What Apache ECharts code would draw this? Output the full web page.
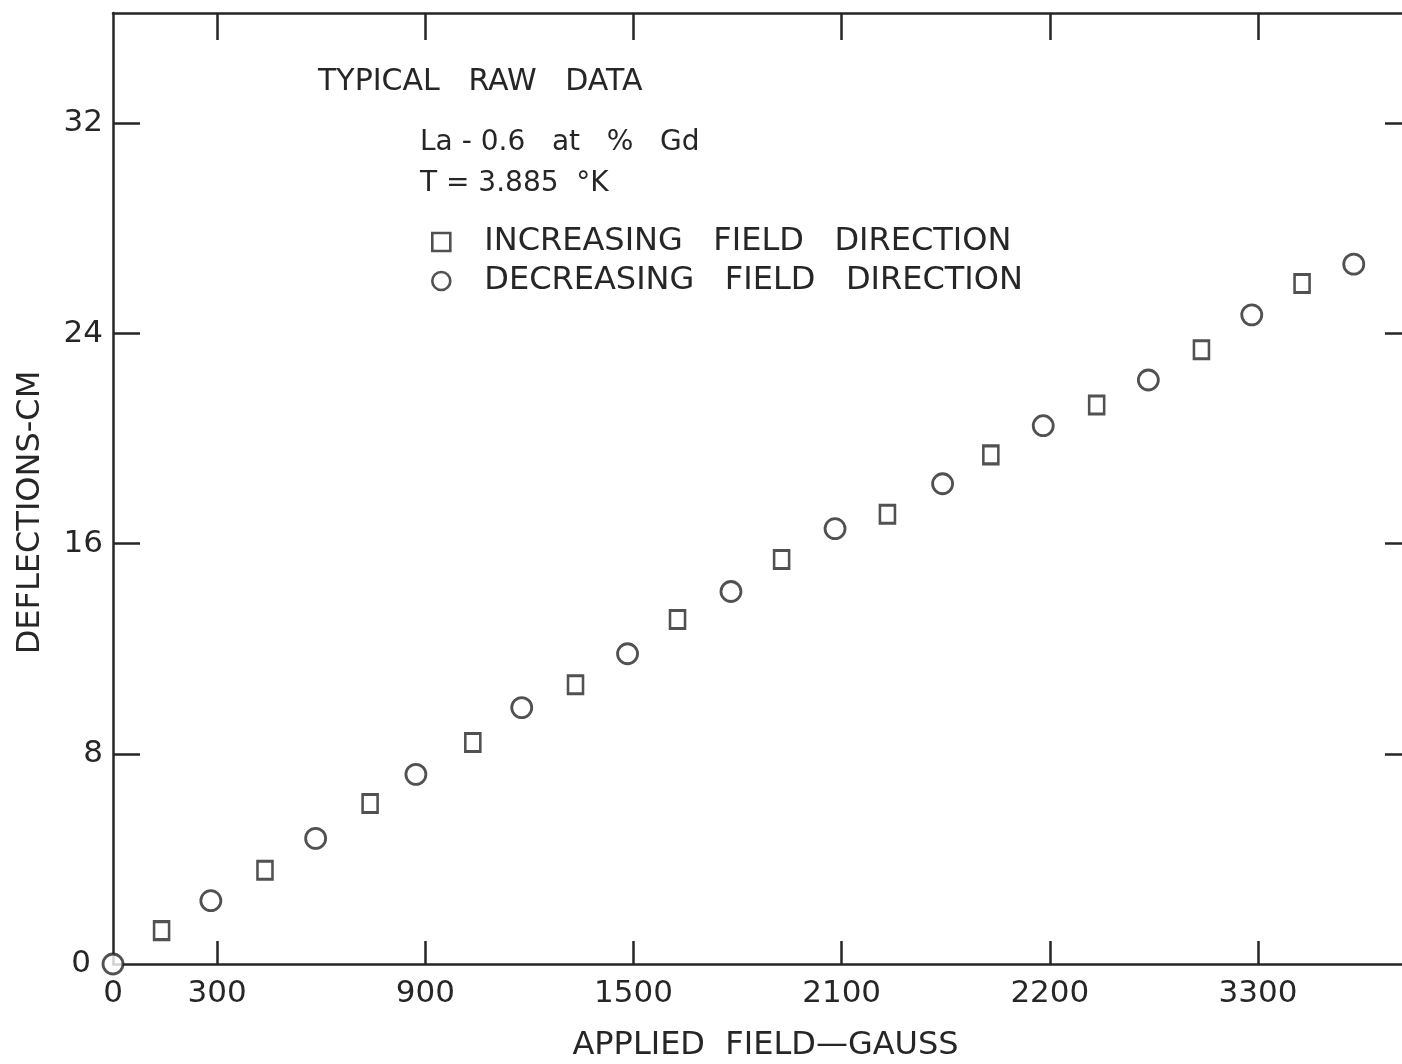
<!DOCTYPE html>
<html>
<head>
    <meta charset="utf-8">
    <title>Typical raw data</title>
    <script src="https://cdn.jsdelivr.net/npm/echarts@6/dist/echarts.min.js"></script>
    <style>
        html, body { margin: 0; padding: 0; background: #fff; }
        #chart { width: 1402px; height: 1064px; }
    </style>
</head>
<body>
<div id="chart"></div>
<script>
    // increasing field direction (squares)
    var incField = [140, 438, 741, 1037, 1333, 1627, 1927, 2232, 2530, 2835, 3137, 3427];
    var incDefl = [1.27, 3.57, 6.11, 8.43, 10.63, 13.11, 15.40, 17.12, 19.38, 21.28, 23.38, 25.90];
    // decreasing field direction (circles)
    var decField = [0, 282, 584, 873, 1178, 1483, 1781, 2081, 2391, 2681, 2984, 3282, 3576];
    var decDefl = [0, 2.41, 4.78, 7.22, 9.76, 11.81, 14.18, 16.57, 18.28, 20.49, 22.23, 24.71, 26.64];

    // tick positions and printed labels (the original sheet prints 2200 at the 2700 mark)
    var xTickValues = [0, 300, 900, 1500, 2100, 2700, 3300];
    var xTickLabels = ['0', '300', '900', '1500', '2100', '2200', '3300'];
    var yTickValues = [0, 8, 16, 24, 32];

    var ink = '#262626';
    var font = 'DejaVu Sans';

    function pairs(xs, ys) {
        var out = [];
        for (var i = 0; i < xs.length; i++) out.push([xs[i], ys[i]]);
        return out;
    }

    var myChart = echarts.init(document.getElementById('chart'));

    var option = {
        backgroundColor: '#fff',
        animation: false,
        grid: { left: 113, top: 13, right: 0, bottom: 100, outerBoundsMode: 'none' },
        legend: {
            orient: 'vertical',
            left: 431,
            top: 226,
            padding: 0,
            itemGap: 7,
            itemWidth: 18,
            itemHeight: 18,
            itemStyle: { borderWidth: 2.6 },
            textStyle: { fontFamily: font, fontSize: 32, color: ink, lineHeight: 32, padding: [0, 0, 0, 29] },
            data: ['INCREASING   FIELD   DIRECTION', 'DECREASING   FIELD   DIRECTION']
        },
        graphic: [
            { type: 'text', left: 318, top: 67, style: { text: 'TYPICAL   RAW   DATA', font: '30px "DejaVu Sans"', fill: ink } },
            { type: 'text', left: 420, top: 129, style: { text: 'La - 0.6   at   %   Gd', font: '28px "DejaVu Sans"', fill: ink } },
            { type: 'text', left: 420, top: 170, style: { text: 'T = 3.885  °K', font: '28px "DejaVu Sans"', fill: ink } }
        ],
        xAxis: [
            {
                type: 'value', position: 'bottom', min: 0, max: 3715,
                name: 'APPLIED  FIELD—GAUSS', nameLocation: 'middle', nameGap: 66,
                nameTextStyle: { fontFamily: font, fontSize: 32, color: ink, padding: [0, 0, 0, 16] },
                axisLine: { show: true, onZero: false, lineStyle: { color: ink, width: 2.5 } },
                axisTick: { show: true, inside: true, length: 23, lineStyle: { color: ink, width: 2.5 }, customValues: xTickValues.slice(1) },
                axisLabel: {
                    margin: 14, fontFamily: font, fontSize: 31, color: ink,
                    customValues: xTickValues,
                    formatter: function (v) {
                        var i = xTickValues.indexOf(v);
                        return i >= 0 ? xTickLabels[i] : '';
                    }
                },
                splitLine: { show: false }
            },
            {
                type: 'value', position: 'top', min: 0, max: 3715,
                axisLine: { show: true, onZero: false, lineStyle: { color: ink, width: 2.5 } },
                axisTick: { show: true, inside: true, length: 27, lineStyle: { color: ink, width: 2.5 }, customValues: xTickValues.slice(1) },
                axisLabel: { show: false },
                splitLine: { show: false }
            }
        ],
        yAxis: [
            {
                type: 'value', position: 'left', min: 0, max: 36.2,
                name: 'DEFLECTIONS-CM', nameLocation: 'middle', nameGap: 66, nameRotate: 90,
                nameTextStyle: { fontFamily: font, fontSize: 32, color: ink, padding: [0, 48, 0, 0] },
                axisLine: { show: true, onZero: false, lineStyle: { color: ink, width: 2.5 } },
                axisTick: { show: true, inside: true, length: 27, lineStyle: { color: ink, width: 2.5 }, customValues: yTickValues.slice(1) },
                axisLabel: {
                    margin: 10, fontFamily: font, fontSize: 31, color: ink,
                    customValues: yTickValues,
                    formatter: function (v) { return v === 0 ? '{z|0}' : String(v); },
                    rich: { z: { fontFamily: font, fontSize: 31, color: ink, padding: [0, 12, 0, 0] } }
                },
                splitLine: { show: false }
            },
            {
                type: 'value', position: 'right', min: 0, max: 36.2,
                axisLine: { show: false, onZero: false },
                axisTick: { show: true, inside: true, length: 17, lineStyle: { color: ink, width: 2.5 }, customValues: yTickValues.slice(1) },
                axisLabel: { show: false },
                splitLine: { show: false }
            }
        ],
        series: [
            {
                name: 'INCREASING   FIELD   DIRECTION',
                type: 'scatter',
                symbol: 'rect',
                symbolSize: [15, 18],
                clip: false,
                itemStyle: { color: '#fff', borderColor: ink, borderWidth: 2.8 },
                data: pairs(incField, incDefl)
            },
            {
                name: 'DECREASING   FIELD   DIRECTION',
                type: 'scatter',
                symbol: 'circle',
                symbolSize: 20,
                clip: false,
                itemStyle: { color: '#fff', borderColor: ink, borderWidth: 2.8 },
                data: pairs(decField, decDefl)
            }
        ]
    };

    myChart.setOption(option);
</script>
</body>
</html>
